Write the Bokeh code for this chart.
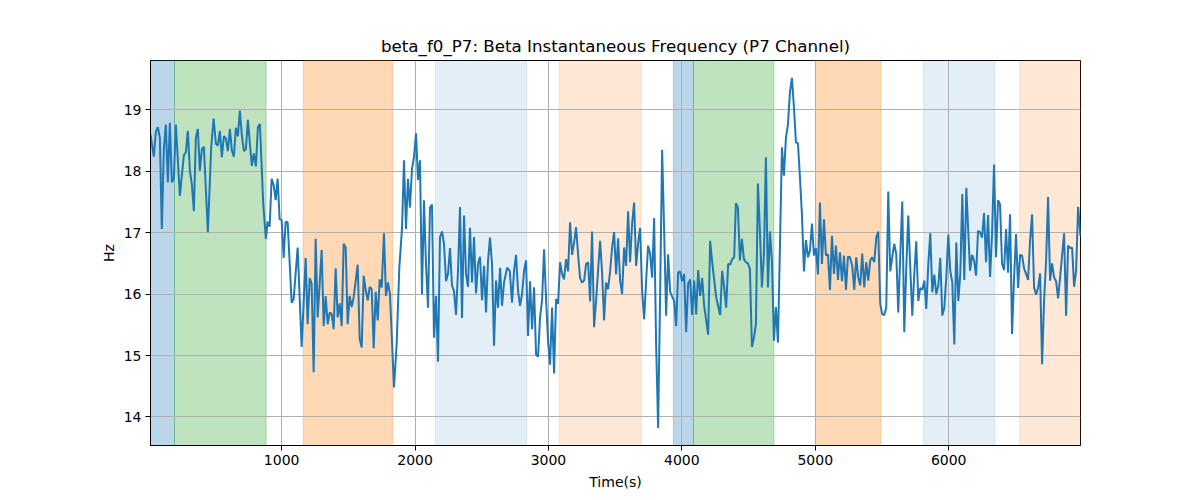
from bokeh.plotting import figure
from bokeh.models import Range1d, BoxAnnotation, FixedTicker
from bokeh.embed import file_html
from bokeh.resources import INLINE

# ---- data ----
time_s = [
    17, 42, 57, 72, 87, 102, 117, 132, 147, 162, 177, 192, 207, 237, 267, 282, 297, 312, 327, 342,
    357, 372, 387, 402, 417, 447, 472, 490, 507, 522, 537, 552, 567, 582, 597, 612, 627, 642, 657, 672,
    687, 702, 717, 732, 747, 762, 777, 792, 807, 822, 837, 862, 882,
    895, 910, 925, 940, 955, 970, 985, 1000, 1015, 1030, 1045, 1075, 1090, 1120, 1150, 1180, 1195, 1210,
    1225, 1240, 1255, 1270, 1300, 1315, 1330, 1345, 1360, 1375, 1390, 1405, 1420, 1435, 1450, 1465, 1480,
    1495, 1510, 1525, 1540, 1570, 1585, 1600, 1615, 1630, 1645, 1660, 1675, 1690, 1705, 1720, 1735, 1750, 1767,
    1782, 1797, 1812, 1842, 1862, 1882, 1902, 1917, 1932, 1947, 1962, 1977, 1992, 2007, 2022, 2037, 2052,
    2067, 2082, 2097, 2112, 2127, 2142, 2157, 2172, 2187, 2202, 2217, 2232, 2247, 2262, 2277, 2292, 2307,
    2322, 2337, 2352, 2367, 2382, 2397, 2412, 2427, 2442, 2457, 2472, 2487, 2502, 2517, 2532, 2547, 2562,
    2577, 2592, 2607, 2622, 2637,
    2652, 2667, 2690, 2710, 2727, 2742, 2757, 2772, 2787, 2802, 2817, 2832, 2847, 2862, 2877, 2892, 2907,
    2922, 2937, 2952, 2967, 2982, 2997, 3012, 3027, 3042, 3057, 3072, 3087, 3102, 3117, 3132, 3147, 3162,
    3177, 3192, 3207, 3222, 3237, 3252, 3267, 3282, 3297, 3312, 3327, 3342, 3357, 3372, 3387, 3402, 3417,
    3432, 3447, 3462, 3477, 3492, 3507,
    3522, 3537, 3552, 3567, 3582, 3597, 3612, 3627, 3642, 3657, 3672, 3687, 3702, 3717, 3732, 3747, 3762,
    3777, 3792, 3807, 3822, 3837, 3852, 3867, 3882, 3897, 3912, 3927, 3942, 3957, 3972, 3987, 4002, 4017,
    4032, 4047, 4062, 4077, 4092, 4107, 4122, 4137, 4152, 4167, 4197, 4212, 4227, 4257, 4287, 4302, 4317,
    4332, 4347, 4362, 4377, 4392,
    4405, 4420, 4435, 4450, 4465, 4480, 4495, 4510, 4525, 4540, 4555, 4570, 4585, 4600, 4615, 4630, 4645,
    4660, 4675, 4690, 4705, 4720, 4735, 4750, 4765, 4780, 4795, 4810, 4825, 4840, 4855, 4870, 4885, 4900,
    4915, 4930, 4945, 4960, 4975, 4990, 5005, 5020, 5035, 5050, 5065, 5080, 5095, 5110, 5125, 5140, 5155,
    5170, 5185, 5200, 5215, 5230, 5245, 5260,
    5277, 5292, 5307, 5322, 5337, 5352, 5367, 5382, 5397, 5412, 5427, 5442, 5457, 5472, 5487, 5502, 5517,
    5532, 5547, 5562, 5577, 5592, 5607, 5622, 5637, 5652, 5667, 5682, 5697, 5712, 5727, 5742, 5757, 5772,
    5787, 5802, 5817, 5832, 5847, 5862, 5877, 5892, 5907, 5922, 5937, 5952, 5967, 5982, 5997, 6012, 6027,
    6042, 6057, 6072, 6087, 6102, 6117, 6132,
    6160, 6175, 6190, 6205, 6220, 6235, 6250, 6265, 6280, 6295, 6310, 6325, 6340, 6355, 6370, 6385, 6400,
    6415, 6430, 6445, 6460, 6475, 6490, 6505, 6520, 6535, 6550, 6565, 6580, 6595, 6610, 6625, 6640, 6655,
    6670, 6685, 6700, 6715, 6730, 6745, 6760, 6775, 6790, 6805, 6820, 6835, 6850, 6865, 6880, 6895, 6910,
    6925, 6940, 6955, 6970, 6988,
]

beta_hz = [
    18.60, 18.24, 18.64, 18.72, 18.55, 17.06, 18.36, 18.76, 17.82, 18.79, 17.82, 17.88, 18.76, 17.60, 18.26,
    18.31, 18.66, 18.01, 17.79, 17.35, 18.55, 18.69, 18.01, 18.36, 18.40, 17.01, 18.39, 18.86, 18.45, 18.42,
    18.66, 18.23, 18.57, 18.54, 18.33, 18.69, 18.34, 18.24, 18.71, 18.57, 18.99, 18.58, 18.33, 18.36, 18.84,
    18.45, 18.09, 18.29, 18.08, 18.72, 18.77, 17.47, 16.90,
    17.18, 17.10, 17.88, 17.78, 17.53, 17.88, 17.22, 17.21, 16.59, 17.18, 17.17, 15.86, 15.92, 16.76, 15.14,
    16.59, 15.51, 16.26, 16.17, 14.73, 16.90, 15.62, 16.72, 15.48, 15.97, 15.51, 15.70, 15.68, 15.43, 16.42,
    15.62, 15.85, 15.48, 16.82, 16.76, 15.51, 15.97, 15.79, 15.95, 16.48, 15.27, 15.13, 16.30, 16.07, 15.90,
    16.12, 16.08, 15.12, 16.04, 15.57, 16.24, 16.11, 16.99,
    15.97, 16.19, 16.00, 14.48, 15.18, 16.43, 17.06, 18.18, 17.06, 17.88, 17.41, 18.04, 18.23, 18.62, 17.86,
    18.18, 16.00, 17.53, 16.49, 15.78, 17.41, 17.46, 15.29, 15.97, 14.90, 16.93, 17.02, 16.82, 16.21, 16.33,
    16.75, 16.14, 16.05, 15.66, 16.38, 17.42, 15.61, 17.28, 16.33, 16.12, 17.08, 16.19, 16.93, 16.01, 16.49,
    16.61, 15.90, 16.46, 15.70, 16.54, 16.92, 16.49, 15.16, 16.22, 15.78, 16.43,
    15.81, 16.19, 16.43, 16.38, 15.86, 16.38, 16.64, 16.05, 15.81, 16.00, 16.38, 16.55, 15.32, 16.21, 15.43,
    16.11, 15.02, 14.98, 15.62, 15.90, 16.73, 15.93, 15.23, 14.85, 15.78, 14.71, 15.92, 15.84, 16.52, 16.33,
    16.24, 16.57, 16.37, 17.17, 16.64, 16.84, 17.09, 16.65, 16.26, 16.19, 16.22, 16.49, 16.52, 15.88, 17.02,
    15.46, 15.89, 16.39, 16.87, 16.35, 15.57, 16.19, 16.08, 16.37, 16.76, 17.01, 16.32,
    16.91, 16.22, 16.00, 16.76, 16.46, 17.35, 16.52, 17.15, 17.49, 16.46, 16.83, 17.08, 16.05, 15.59, 16.21,
    16.79, 16.66, 16.27, 17.24, 15.18, 13.82, 16.00, 18.35, 17.04, 15.65, 16.65, 16.04, 15.96, 15.89, 15.48,
    16.35, 16.37, 16.21, 16.33, 15.38, 16.17, 16.24, 15.66, 16.22, 15.67, 16.39, 15.97, 16.26, 15.81, 15.34,
    16.87, 16.52, 15.95, 15.66, 16.38, 16.11, 15.78, 16.49, 16.48, 16.57, 16.60,
    17.48, 17.41, 16.55, 16.90, 16.57, 16.52, 16.50, 16.41, 15.14, 15.29, 15.51, 17.80, 17.03, 16.11, 16.65,
    18.23, 16.11, 17.02, 16.54, 15.24, 15.79, 15.21, 16.76, 18.39, 17.93, 18.55, 18.76, 19.29, 19.52, 19.04,
    18.47, 18.46, 17.90, 17.30, 16.37, 16.88, 16.60, 16.71, 17.15, 16.63, 16.75, 16.32, 17.49, 16.49, 17.22,
    16.63, 16.65, 16.07, 16.95, 16.33, 16.79, 16.23, 16.68, 16.21, 16.63, 16.07, 16.61, 16.60,
    16.46, 16.07, 16.60, 16.27, 16.14, 16.66, 16.11, 16.52, 16.22, 16.55, 16.60, 16.52, 16.92, 17.02, 15.84,
    15.67, 15.66, 15.78, 17.67, 16.37, 16.60, 16.82, 16.65, 15.70, 16.63, 17.51, 15.38, 16.43, 17.28, 16.43,
    15.65, 16.33, 16.86, 15.89, 16.10, 16.07, 16.22, 15.76, 16.48, 16.99, 16.03, 16.32, 16.00, 16.14, 16.59,
    15.65, 15.78, 16.27, 16.97, 16.38, 16.19, 15.18, 16.84, 15.89, 16.33, 17.63, 16.23, 17.73,
    16.38, 16.64, 16.55, 16.30, 17.03, 17.01, 16.92, 17.32, 16.52, 17.29, 16.28, 16.98, 18.11, 16.60, 17.53,
    17.46, 16.49, 16.39, 17.06, 16.35, 17.30, 15.35, 16.27, 16.98, 16.10, 16.64, 16.63, 16.42, 16.33, 16.23,
    16.87, 17.30, 16.11, 15.99, 16.10, 16.34, 14.86, 15.89, 16.54, 17.58, 16.22, 16.50, 16.27, 16.21, 15.93,
    16.27, 16.63, 16.99, 15.65, 16.79, 16.75, 16.76, 16.12, 16.38, 17.42, 16.95,
]

# shaded segments: start, end, kind
seg_start = [17, 197, 1162, 2152, 3080, 3937, 4087, 5002, 5812, 6532]
seg_end = [197, 884, 1832, 2837, 3695, 4087, 4690, 5492, 6347, 6988]
seg_kind = ["blue", "green", "orange", "lightblue", "lightorange",
            "blue", "green", "orange", "lightblue", "lightorange"]

x_ticks = [1000, 2000, 3000, 4000, 5000, 6000]
y_ticks = [14, 15, 16, 17, 18, 19]

TITLE = "beta_f0_P7: Beta Instantaneous Frequency (P7 Channel)"

kind_style = {
    "blue": ("#1f77b4", 0.3),
    "green": ("#2ca02c", 0.3),
    "orange": ("#ff7f0e", 0.3),
    "lightblue": ("#1f77b4", 0.12),
    "lightorange": ("#ff7f0e", 0.17),
}

lo, hi = min(beta_hz), max(beta_hz)
pad = 0.05 * (hi - lo)

FONT = "DejaVu Sans"

p = figure(
    width=1200, height=500,
    output_backend="svg", toolbar_location=None,
    x_range=Range1d(time_s[0], time_s[-1]),
    y_range=Range1d(lo - pad, hi + pad),
    min_border_left=150, min_border_right=120,
    min_border_top=60, min_border_bottom=55,
    title=TITLE,
)
p.title.align = "center"
p.title.text_font = FONT
p.title.text_font_size = "16.7px"
p.title.text_font_style = "normal"
p.title.text_color = "black"

for s, e, k in zip(seg_start, seg_end, seg_kind):
    c, a = kind_style[k]
    p.add_layout(BoxAnnotation(left=s, right=e, fill_color=c, fill_alpha=a,
                               line_color=c, line_alpha=a, line_width=1, level="image"))

p.line(time_s, beta_hz, line_color="#1f77b4", line_width=2)

p.xaxis.ticker = FixedTicker(ticks=x_ticks)
p.yaxis.ticker = FixedTicker(ticks=y_ticks)
p.xaxis.axis_label = "Time(s)"
p.yaxis.axis_label = "Hz"

for ax in (p.xaxis[0], p.yaxis[0]):
    ax.axis_label_text_font = FONT
    ax.axis_label_text_font_size = "14px"
    ax.axis_label_text_font_style = "normal"
    ax.axis_label_text_color = "black"
    ax.major_label_text_font = FONT
    ax.major_label_text_font_size = "14px"
    ax.major_label_text_color = "black"
    ax.major_tick_in = 0
    ax.major_tick_out = 5
    ax.minor_tick_in = 0
    ax.minor_tick_out = 0
    ax.major_tick_line_color = "black"
    ax.axis_line_color = "black"
    ax.major_label_standoff = 4
    ax.axis_label_standoff = 6

p.yaxis.axis_label_standoff = 4

for g in (p.xgrid[0], p.ygrid[0]):
    g.grid_line_color = "#b0b0b0"
    g.grid_line_width = 1
p.xgrid.ticker = FixedTicker(ticks=x_ticks)
p.ygrid.ticker = FixedTicker(ticks=y_ticks)

p.outline_line_color = "black"
p.outline_line_width = 1
p.outline_line_alpha = 1
p.background_fill_color = "white"
p.border_fill_color = "white"

open("out.html", "w").write(file_html(p, INLINE))
